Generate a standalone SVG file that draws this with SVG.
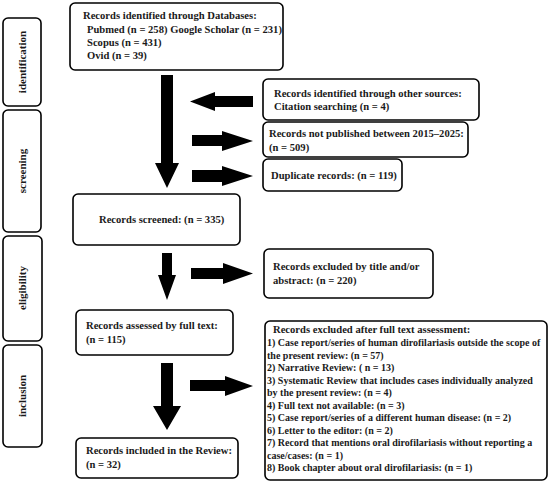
<svg xmlns="http://www.w3.org/2000/svg" width="550" height="483" viewBox="0 0 550 483">
<style>
.box{fill:#fff;stroke:#000;stroke-width:1.6}
.t{font-family:"Liberation Serif","Times New Roman",serif;font-weight:bold;font-size:10.6px;fill:#1a1a1a}
.s{font-size:10px}
.side{font-family:"Liberation Serif","Times New Roman",serif;font-weight:bold;font-size:11px;fill:#1a1a1a;text-anchor:middle}
.ar{fill:#000}
</style>
<rect width="550" height="483" fill="#fff"/>
<g id="side-identification"><rect class="box" x="3" y="18" width="38" height="88" rx="5"/><text class="side" transform="translate(26,62) rotate(-90)">identification</text></g>
<g id="side-screening"><rect class="box" x="3" y="110" width="38" height="122" rx="5"/><text class="side" transform="translate(26,171) rotate(-90)">screening</text></g>
<g id="side-eligibility"><rect class="box" x="3" y="236" width="39" height="105" rx="5"/><text class="side" transform="translate(26,288) rotate(-90)">eligibility</text></g>
<g id="side-inclusion"><rect class="box" x="3" y="345" width="39" height="102" rx="5"/><text class="side" transform="translate(26,396) rotate(-90)">inclusion</text></g>

<g id="connectors">
<polygon class="ar" points="161,75 173,75 173,163 179,163 167,188 155,163 161,163"/>
<polygon class="ar" points="253,96 215,96 215,92 190,101.5 215,111 215,107 253,107"/>
<polygon class="ar" points="192,135 222,135 222,131 253,141 222,151 222,146 192,146"/>
<polygon class="ar" points="192,170 222,170 222,166 253,176 222,186 222,182 192,182"/>
<polygon class="ar" points="162,253 172,253 172,275 176,275 167,300 158,275 162,275"/>
<polygon class="ar" points="191,268 223,268 223,263 253,273.5 223,284 223,279 191,279"/>
<polygon class="ar" points="161,363 173,363 173,406 181,406 167,430 153,406 161,406"/>
<polygon class="ar" points="190,380 225,380 225,376 253,386 225,396 225,391 190,391"/>
</g>

<g id="n-databases"><rect class="box" x="70" y="3" width="213" height="67" rx="5"/>
<text class="t" x="83" y="19">Records identified through Databases:</text>
<text class="t" x="87" y="33">Pubmed (n = 258) Google Scholar (n = 231)</text>
<text class="t" x="87" y="46">Scopus (n = 431)</text>
<text class="t" x="87" y="59">Ovid (n = 39)</text></g>
<g id="n-other"><rect class="box" x="263" y="79" width="216" height="41" rx="5"/>
<text class="t" x="274" y="97">Records identified through other sources:</text>
<text class="t" x="274" y="110">Citation searching (n = 4)</text></g>
<g id="n-notpub"><rect class="box" x="263" y="122" width="205" height="35" rx="5"/>
<text class="t" x="269" y="137">Records not published between 2015–2025:</text>
<text class="t" x="269" y="151">(n = 509)</text></g>
<g id="n-dup"><rect class="box" x="263" y="159" width="139" height="32" rx="5"/>
<text class="t" x="271" y="179">Duplicate records: (n = 119)</text></g>
<g id="n-screened"><rect class="box" x="73" y="194" width="167" height="51" rx="5"/>
<text class="t" x="99" y="223">Records screened: (n = 335)</text></g>
<g id="n-excl-title"><rect class="box" x="264" y="249" width="169" height="49" rx="5"/>
<text class="t" x="273" y="270">Records excluded by title and/or</text>
<text class="t" x="273" y="284">abstract: (n = 220)</text></g>
<g id="n-assessed"><rect class="box" x="76" y="310" width="157" height="45" rx="5"/>
<text class="t" x="86" y="329">Records assessed by full text:</text>
<text class="t" x="86" y="343">(n = 115)</text></g>
<g id="n-included"><rect class="box" x="76" y="438" width="162" height="40" rx="5"/>
<text class="t" x="86" y="454">Records included in the Review:</text>
<text class="t" x="86" y="468">(n = 32)</text></g>
<g id="n-excl-full"><rect class="box" x="265" y="321" width="282" height="159" rx="5"/>
<text class="t" x="273" y="333">Records excluded after full text assessment:</text>
<text class="t s" x="267" y="346">1) Case report/series of human dirofilariasis outside the scope of</text>
<text class="t s" x="267" y="358.5">the present review: (n = 57)</text>
<text class="t s" x="267" y="371">2) Narrative Review: ( n = 13)</text>
<text class="t s" x="267" y="383.5">3) Systematic Review that includes cases individually analyzed</text>
<text class="t s" x="267" y="396">by the present review: (n = 4)</text>
<text class="t s" x="267" y="408.5">4) Full text not available: (n = 3)</text>
<text class="t s" x="267" y="421">5) Case report/series of a different human disease: (n = 2)</text>
<text class="t s" x="267" y="433.5">6) Letter to the editor: (n = 2)</text>
<text class="t s" x="267" y="446">7) Record that mentions oral dirofilariasis without reporting a</text>
<text class="t s" x="267" y="458.5">case/cases: (n = 1)</text>
<text class="t s" x="267" y="471">8) Book chapter about oral dirofilariasis: (n = 1)</text></g>
</svg>
